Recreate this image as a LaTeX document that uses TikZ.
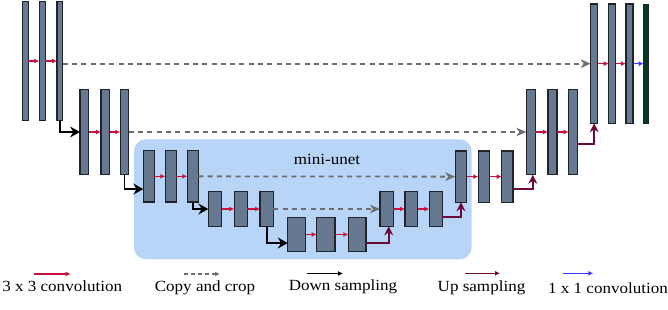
\documentclass[tikz,border=0pt]{standalone}
\usepackage{fontspec}
\setmainfont{Liberation Serif}[FakeStretch=1.1]
\usetikzlibrary{arrows.meta}
\definecolor{barfill}{HTML}{677891}
\definecolor{bardraw}{HTML}{1E232C}
\definecolor{boxblue}{HTML}{B8D4F6}
\definecolor{convred}{HTML}{C8143C}
\definecolor{copygray}{HTML}{6E6E6E}
\definecolor{upmaroon}{HTML}{6B0A3A}
\definecolor{onebyblue}{HTML}{3A3AFF}
\definecolor{outgreen}{HTML}{003B22}
\tikzset{
  barbox/.style={draw=bardraw, fill=barfill, line width=1.2pt, inner sep=0pt, outer sep=0pt},
  greenbar/.style={draw=bardraw, fill=outgreen, line width=0.8pt, inner sep=0pt, outer sep=0pt},
  minibox/.style={fill=boxblue, draw=none, rounded corners=12pt, inner sep=0pt, outer sep=0pt},
  conv/.style={draw=convred, line width=1.6pt, -{Latex[length=5pt,width=5pt]}},
  onebyone/.style={draw=onebyblue, line width=1.6pt, -{Latex[length=5pt,width=5pt]}},
  copycrop/.style={draw=copygray, line width=1.8pt, dash pattern=on 5pt off 4.3pt, -{Stealth[length=10pt,width=8.5pt,inset=3pt]}},
  downs/.style={draw=black, line width=1.7pt, -{Stealth[length=10pt,width=11pt,inset=3.5pt]}},
  ups/.style={draw=upmaroon, line width=1.7pt, -{Stealth[length=9pt,width=9pt,inset=3pt]}},
  lconv/.style={draw=convred, line width=1.6pt, -{Latex[length=5pt,width=5pt]}},
  lcopy/.style={draw=copygray, line width=1.6pt, dash pattern=on 4pt off 3pt, -{Latex[length=5pt,width=5pt]}},
  ldown/.style={draw=black, line width=1.6pt, -{Latex[length=5pt,width=5pt]}},
  lup/.style={draw=upmaroon, line width=1.6pt, -{Latex[length=5pt,width=5pt]}},
  lone/.style={draw=onebyblue, line width=1.6pt, -{Latex[length=5pt,width=5pt]}},
  lbl/.style={inner sep=0pt, font=\fontsize{15.5pt}{18pt}\selectfont},
}
\newcommand\mkbar[6][barbox]{\node[#1, minimum width={#4-#3}, minimum height={#6-#5}] (#2) at ({(#3+#4)/2},{(#5+#6)/2}) {};}
\begin{document}
\begin{tikzpicture}[x=1pt,y=-1pt]
\useasboundingbox (0,0) rectangle (668,309);
% mini-unet background
\node[minibox, minimum width=337.7, minimum height=120] (mini) at (302.85,199.3) {};
\node[lbl, anchor=base] (minilabel) at (327,164.3) {mini-unet};
% level 0 encoder
\mkbar{e01}{22.3}{28.2}{1.3}{120.7}
\mkbar{e02}{39.3}{45.3}{1.3}{120.7}
\mkbar{e03}{57}{62.7}{1.3}{120.7}
% level 1 encoder
\mkbar{e11}{80}{88.7}{89.3}{174.7}
\mkbar{e12}{101}{109.7}{89.3}{174.7}
\mkbar{e13}{120.3}{128.7}{89.3}{174.7}
% level 2 encoder
\mkbar{e21}{143.3}{154.3}{150.7}{202}
\mkbar{e22}{165.3}{176.3}{150.7}{202}
\mkbar{e23}{187.3}{198.3}{150.7}{202}
% level 3 encoder
\mkbar{e31}{208.3}{221.7}{191.7}{226.3}
\mkbar{e32}{234.3}{247.3}{191.7}{226.3}
\mkbar{e33}{260}{273.3}{191.7}{226.3}
% bottom
\mkbar{b1}{287.7}{305.7}{217.3}{251.7}
\mkbar{b2}{316.7}{335}{217.3}{251.7}
\mkbar{b3}{348.3}{366}{217.3}{251.7}
% level 3 decoder
\mkbar{d31}{380}{393.3}{191.7}{226.3}
\mkbar{d32}{405}{417.7}{191.7}{226.3}
\mkbar{d33}{429.3}{442.3}{191.7}{226.3}
% level 2 decoder
\mkbar{d21}{455.3}{466.5}{151}{202.3}
\mkbar{d22}{478.3}{489.7}{151}{202.3}
\mkbar{d23}{501.7}{513}{151}{202.3}
% level 1 decoder
\mkbar{d11}{526.3}{535.3}{89.3}{174.7}
\mkbar{d12}{548}{557}{89.3}{174.7}
\mkbar{d13}{568.7}{577.7}{89.3}{174.7}
% level 0 decoder
\mkbar{d01}{590.7}{597.7}{4}{123.3}
\mkbar{d02}{608.7}{615.7}{4}{123.3}
\mkbar{d03}{626}{633}{4}{123.3}
\mkbar[greenbar]{out}{643.7}{648}{4}{123.3}
% convolutions
\draw[conv] (e01) -- (e02);
\draw[conv] (e02) -- (e03);
\draw[conv] (e11) -- (e12);
\draw[conv] (e12) -- (e13);
\draw[conv] (e21) -- (e22);
\draw[conv] (e22) -- (e23);
\draw[conv] (e31) -- (e32);
\draw[conv] (e32) -- (e33);
\draw[conv] (b1) -- (b2);
\draw[conv] (b2) -- (b3);
\draw[conv] (d31) -- (d32);
\draw[conv] (d32) -- (d33);
\draw[conv] (d21) -- (d22);
\draw[conv] (d22) -- (d23);
\draw[conv] (d11) -- (d12);
\draw[conv] (d12) -- (d13);
\draw[conv] (d01) -- (d02);
\draw[conv] (d02) -- (d03);
\draw[onebyone] (d03) -- (out);
% copy and crop
\draw[copycrop] (e03.east |- d01.west) -- (d01.west);
\draw[copycrop] (e13.east) -- (d11.west);
\draw[copycrop] (e23.east) -- (d21.west);
\draw[copycrop] (e33.east) -- (d31.west);
% down sampling
\draw[downs] (e03.south) |- (e11.west);
\draw[downs] (e13.south) |- ([yshift=-12.7pt]e21.west);
\draw[downs] (e23.south) |- (e31.west);
\draw[downs] (e33.south) |- ([yshift=-8.5pt]b1.west);
% up sampling
\draw[ups] ([yshift=-8.2pt]b3.east) -| ([xshift=2pt]d31.south);
\draw[ups] ([yshift=-8.3pt]d33.east) -| (d21.south);
\draw[ups] ([yshift=-12.4pt]d23.east) -| ([xshift=2pt]d11.south);
\draw[ups] ([yshift=-12pt]d13.east) -| (d01.south);
% legend
\coordinate (l1a) at (34,274); \coordinate (l1b) at (70.7,274);
\coordinate (l2a) at (184,274); \coordinate (l2b) at (220,274);
\coordinate (l3a) at (307,273.5); \coordinate (l3b) at (343,273.5);
\coordinate (l4a) at (465,273.3); \coordinate (l4b) at (500,273.3);
\coordinate (l5a) at (562.7,273.3); \coordinate (l5b) at (593.3,273.3);
\draw[lconv] (l1a) -- (l1b);
\draw[lcopy] (l2a) -- (l2b);
\draw[ldown] (l3a) -- (l3b);
\draw[lup] (l4a) -- (l4b);
\draw[lone] (l5a) -- (l5b);
\node[lbl, anchor=base] (t1) at (62.2,291) {3 x 3 convolution};
\node[lbl, anchor=base] (t2) at (205,291.5) {Copy and crop};
\node[lbl, anchor=base] (t3) at (343,290.5) {Down sampling};
\node[lbl, anchor=base] (t4) at (481.5,291.5) {Up sampling};
\node[lbl, anchor=base] (t5) at (608,293) {1 x 1 convolution};
\end{tikzpicture}
\end{document}
